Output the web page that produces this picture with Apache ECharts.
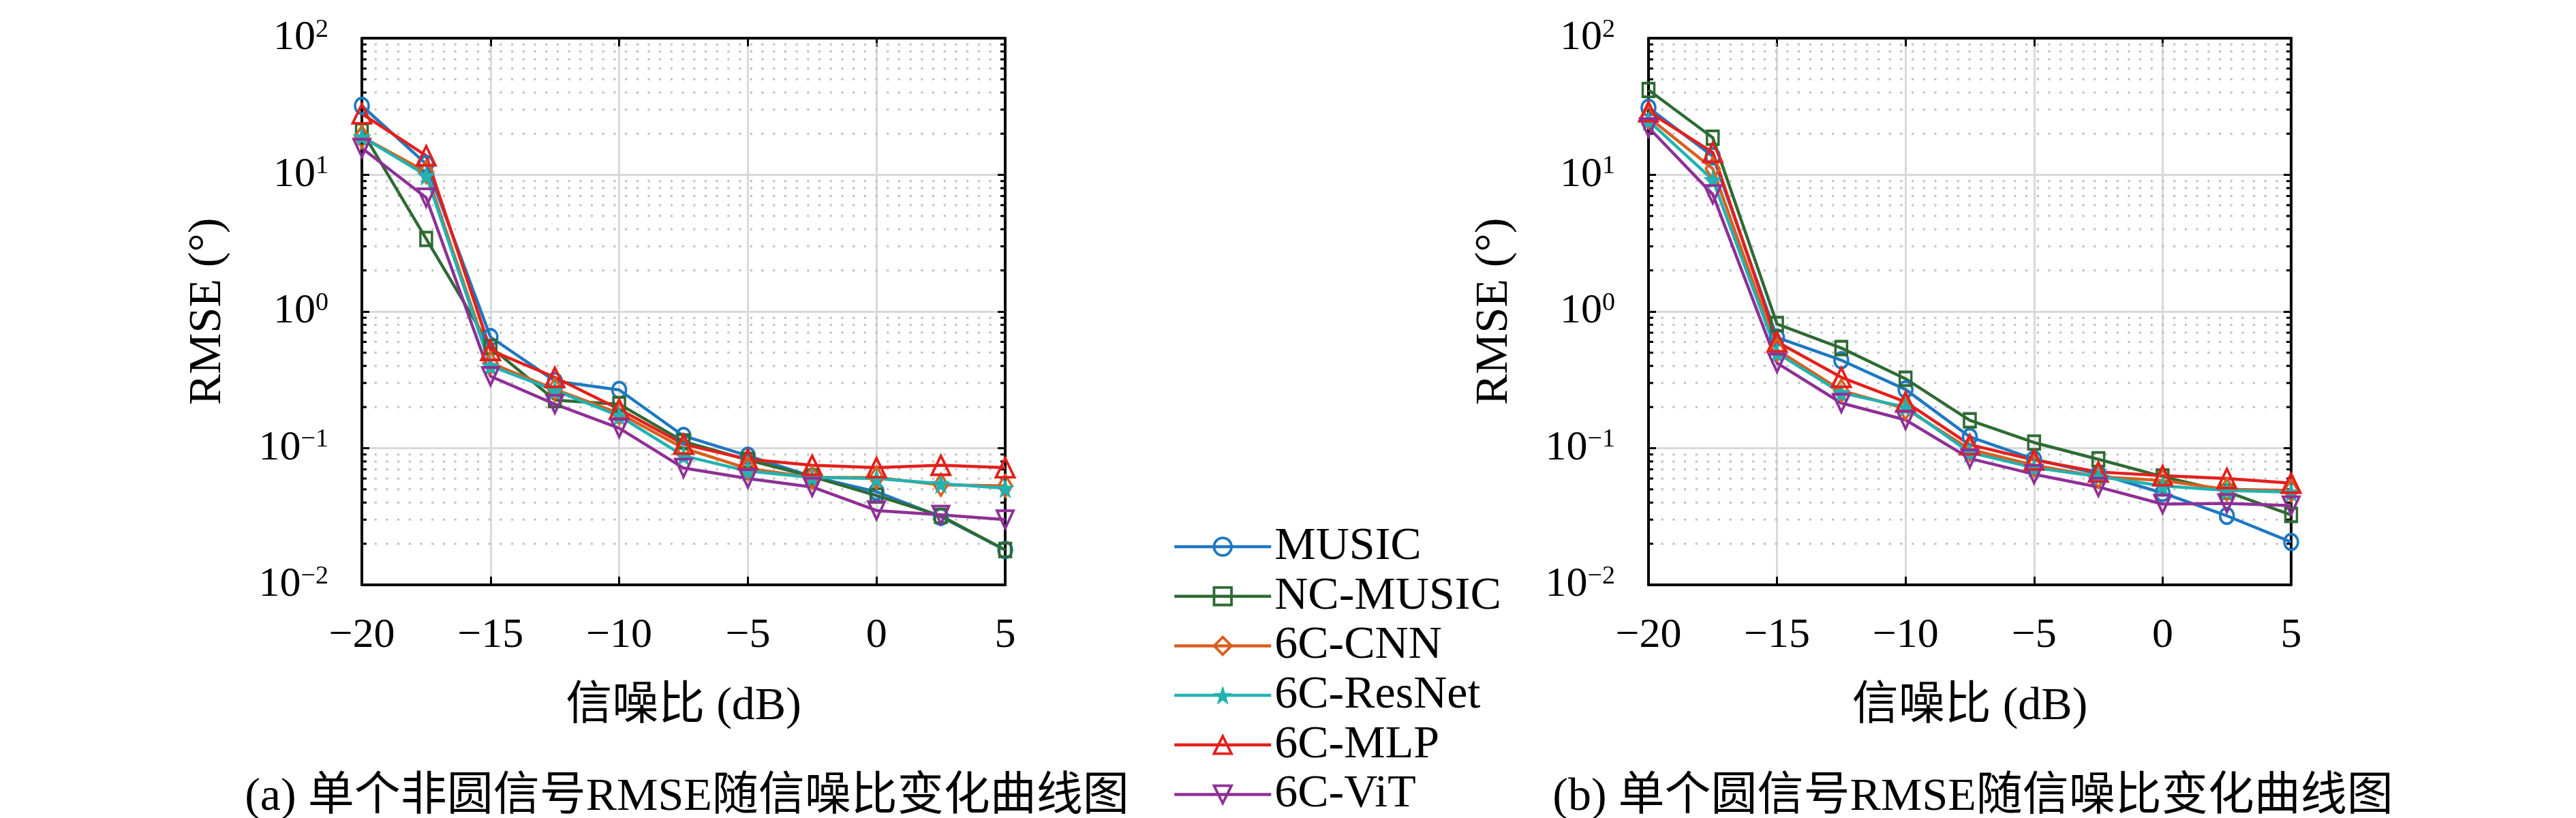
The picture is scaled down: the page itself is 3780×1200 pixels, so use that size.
<!DOCTYPE html>
<html>
<head>
<meta charset="utf-8">
<title>RMSE vs SNR</title>
<script src="https://cdn.jsdelivr.net/npm/echarts@6.0.0/dist/echarts.min.js"></script>
<style>
	html, body { margin: 0; padding: 0; background: #fff; }
	#main { width: 3780px; height: 1200px; }
</style>
</head>
<body>
<div id="main"></div>
<script>
/*
 *  ========== 数据 ==========
 */
var snr = [-20, -17.5, -15, -12.5, -10, -7.5, -5, -2.5, 0, 2.5, 5];
var xTicks = [-20, -15, -10, -5, 0, 5];
var yTicks = [0.01, 0.1, 1, 10, 100];
var yMinor = [0.02, 0.03, 0.04, 0.05, 0.06, 0.07, 0.08, 0.09,
	0.2, 0.3, 0.4, 0.5, 0.6, 0.7, 0.8, 0.9,
	2, 3, 4, 5, 6, 7, 8, 9,
	20, 30, 40, 50, 60, 70, 80, 90];

var names = ['MUSIC', 'NC-MUSIC', '6C-CNN', '6C-ResNet', '6C-MLP', '6C-ViT'];

// (a) 单个非圆信号
var a_music  = [32, 12, 0.65, 0.31, 0.267, 0.123, 0.088, 0.062, 0.048, 0.0315, 0.018];
var a_ncmusic = [21, 3.4, 0.55, 0.225, 0.21, 0.112, 0.082, 0.062, 0.045, 0.032, 0.018];
var a_cnn    = [19, 10.5, 0.42, 0.27, 0.18, 0.10, 0.071, 0.061, 0.061, 0.054, 0.053];
var a_resnet = [19, 9.9, 0.40, 0.265, 0.172, 0.088, 0.068, 0.061, 0.06, 0.055, 0.051];
var a_mlp    = [28, 13.8, 0.52, 0.33, 0.193, 0.107, 0.083, 0.075, 0.072, 0.075, 0.072];
var a_vit    = [15.7, 6.8, 0.336, 0.21, 0.14, 0.0716, 0.06, 0.052, 0.035, 0.0325, 0.030];

// (b) 单个圆信号
var b_music  = [31, 13.7, 0.645, 0.44, 0.269, 0.121, 0.083, 0.065, 0.047, 0.032, 0.0206];
var b_ncmusic = [41.8, 18.7, 0.81, 0.54, 0.322, 0.16, 0.110, 0.083, 0.062, 0.048, 0.0325];
var b_cnn    = [26.4, 11.1, 0.525, 0.264, 0.195, 0.098, 0.075, 0.062, 0.058, 0.050, 0.049];
var b_resnet = [24.9, 9.2, 0.497, 0.254, 0.2, 0.093, 0.072, 0.062, 0.053, 0.049, 0.0477];
var b_mlp    = [29, 14.6, 0.6, 0.33, 0.218, 0.106, 0.082, 0.067, 0.063, 0.06, 0.0555];
var b_vit    = [22.2, 7.2, 0.42, 0.214, 0.161, 0.084, 0.0645, 0.052, 0.039, 0.0395, 0.038];

var captionA = '(a) 单个非圆信号RMSE随信噪比变化曲线图';
var captionB = '(b) 单个圆信号RMSE随信噪比变化曲线图';
var xName = '信噪比 (dB)';
var yName = 'RMSE (°)';

/*
 *  ========== 样式 ==========
 */
var colors = ['#1f78c1', '#2f6b35', '#d95f1e', '#22b2b2', '#e3201c', '#8e3095'];
var symbols = [
	'circle',
	'rect',
	'diamond',
	'path://M50,0 L61.8,35.1 L98.1,35.1 L68.8,56.7 L79.4,91 L50,70 L20.6,91 L31.2,56.7 L1.9,35.1 L38.2,35.1 Z',
	'triangle',
	'path://M0,0 L100,0 L50,100 Z'
];
var symbolSizes = [[20, 23], [17, 20], [20, 32], [25, 28], [27, 28], [24, 26]];
var filled = [false, false, false, true, false, false];

var fontLatin = 'Liberation Serif, Noto Sans CJK SC, serif';
var tickFont = 62;
var bigFont = 68;
var lineW = 4.5;

var gridA = { left: 531, top: 56, width: 944, height: 802 };
var gridB = { left: 2419, top: 56, width: 943, height: 802 };

var axisLineStyle = { show: true, onZero: false, lineStyle: { color: '#000', width: 4 } };

function minusSign(s) {
	return String(s).replace('-', '\u2212');
}

function xAxisMain(gi) {
	return {
		type: 'value', gridIndex: gi, position: 'bottom',
		min: xTicks[0], max: xTicks[xTicks.length - 1], interval: 5,
		name: xName, nameLocation: 'middle', nameGap: 145,
		nameTextStyle: { fontSize: bigFont, fontFamily: fontLatin, color: '#000' },
		axisLine: axisLineStyle,
		axisTick: { show: true, inside: true, length: 12, lineStyle: { color: '#000', width: 3 } },
		axisLabel: {
			margin: 44, fontSize: tickFont, fontFamily: fontLatin, color: '#000',
			formatter: function (v) { return minusSign(v); }
		},
		splitLine: { show: true, lineStyle: { color: '#d9d9d9', width: 3 } }
	};
}

function xAxisTop(gi) {
	return {
		type: 'value', gridIndex: gi, position: 'top',
		min: xTicks[0], max: xTicks[xTicks.length - 1], interval: 5,
		axisLine: axisLineStyle,
		axisTick: { show: true, inside: true, length: 12, lineStyle: { color: '#000', width: 3 } },
		axisLabel: { show: false },
		splitLine: { show: false }
	};
}

function yAxisMain(gi) {
	return {
		type: 'log', logBase: 10, gridIndex: gi, position: 'left',
		min: yTicks[0], max: yTicks[yTicks.length - 1],
		name: yName, nameLocation: 'middle', nameGap: 192,
		nameTextStyle: { fontSize: bigFont, fontFamily: fontLatin, color: '#000' },
		axisLine: axisLineStyle,
		axisTick: { show: true, inside: true, length: 11, lineStyle: { color: '#000', width: 3 } },
		axisLabel: {
			margin: 49, color: '#000',
			formatter: function (v) {
				var e = Math.round(Math.log10(v));
				return '{b|10}{s|' + minusSign(e) + '}';
			},
			rich: {
				b: { fontSize: tickFont, fontFamily: fontLatin, color: '#000' },
				s: { fontSize: 38, fontFamily: fontLatin, color: '#000', verticalAlign: 'top' }
			}
		},
		splitLine: { show: true, lineStyle: { color: '#d9d9d9', width: 3 } }
	};
}

function yAxisRight(gi) {
	return {
		type: 'log', logBase: 10, gridIndex: gi, position: 'right',
		min: yTicks[0], max: yTicks[yTicks.length - 1],
		axisLine: axisLineStyle,
		axisTick: { show: true, inside: true, length: 11, lineStyle: { color: '#000', width: 3 } },
		axisLabel: { show: false },
		splitLine: { show: false }
	};
}

// 次网格线(点线) + 左右两侧次刻度
function minorSeries(axisIdx) {
	var data = [];
	for (var i = 0; i < yMinor.length; i++) {
		data.push([xTicks[0], yMinor[i]]);
	}
	return {
		type: 'custom', xAxisIndex: axisIdx, yAxisIndex: axisIdx,
		silent: true, z: 1,
		encode: { x: 0, y: 1 },
		data: data,
		renderItem: function (params, api) {
			var v = api.value(1);
			var p0 = api.coord([xTicks[0], v]);
			var p1 = api.coord([xTicks[xTicks.length - 1], v]);
			return {
				type: 'group',
				children: [{
					type: 'line',
					shape: { x1: p0[0] + 2, y1: p0[1], x2: p1[0], y2: p1[1] },
					style: { stroke: '#bdbdbd', lineWidth: 3, lineDash: [3, 13.7] }
				}, {
					type: 'line',
					shape: { x1: p0[0], y1: p0[1], x2: p0[0] + 7, y2: p0[1] },
					style: { stroke: '#000', lineWidth: 3 }
				}, {
					type: 'line',
					shape: { x1: p1[0] - 7, y1: p1[1], x2: p1[0], y2: p1[1] },
					style: { stroke: '#000', lineWidth: 3 }
				}]
			};
		}
	};
}

function pairUp(vals) {
	var out = [];
	for (var i = 0; i < snr.length; i++) {
		out.push([snr[i], vals[i]]);
	}
	return out;
}

function markerStyle(k) {
	return {
		color: filled[k] ? colors[k] : 'rgba(255,255,255,0)',
		borderColor: colors[k],
		borderWidth: filled[k] ? 1 : 3.8
	};
}

function lineSeries(k, vals, axisIdx) {
	return {
		name: names[k],
		type: 'line',
		xAxisIndex: axisIdx, yAxisIndex: axisIdx,
		data: pairUp(vals),
		clip: false,
		symbol: symbols[k],
		symbolSize: symbolSizes[k],
		showAllSymbol: true,
		lineStyle: { color: colors[k], width: lineW },
		itemStyle: markerStyle(k),
		emphasis: { disabled: true },
		animation: false
	};
}

var legendData = [];
for (var k = 0; k < names.length; k++) {
	legendData.push({
		name: names[k],
		itemStyle: markerStyle(k),
		lineStyle: { color: colors[k], width: lineW }
	});
}

var aSets = [a_music, a_ncmusic, a_cnn, a_resnet, a_mlp, a_vit];
var bSets = [b_music, b_ncmusic, b_cnn, b_resnet, b_mlp, b_vit];

var series = [minorSeries(0), minorSeries(2)];
for (var i = 0; i < names.length; i++) {
	series.push(lineSeries(i, aSets[i], 0));
}
for (var j = 0; j < names.length; j++) {
	series.push(lineSeries(j, bSets[j], 2));
}

var myChart = echarts.init(document.getElementById('main'), null, { renderer: 'canvas' });
var option = {
	backgroundColor: '#fff',
	animation: false,
	title: [{
		text: captionA, left: 1003, top: 1131, textAlign: 'center',
		textStyle: { fontSize: bigFont, fontFamily: fontLatin, fontWeight: 'normal', color: '#000' }
	}, {
		text: captionB, left: 2890, top: 1131, textAlign: 'center',
		textStyle: { fontSize: bigFont, fontFamily: fontLatin, fontWeight: 'normal', color: '#000' }
	}],
	legend: {
		orient: 'vertical',
		left: 1721, top: 768,
		height: 460,
		padding: 0,
		itemWidth: 142, itemHeight: 32, itemGap: 4.7,
		textStyle: { fontSize: bigFont, fontFamily: fontLatin, color: '#000' },
		data: legendData
	},
	grid: [gridA, gridB],
	xAxis: [xAxisMain(0), xAxisTop(0), xAxisMain(1), xAxisTop(1)],
	yAxis: [yAxisMain(0), yAxisRight(0), yAxisMain(1), yAxisRight(1)],
	series: series
};
myChart.setOption(option);
</script>
</body>
</html>
